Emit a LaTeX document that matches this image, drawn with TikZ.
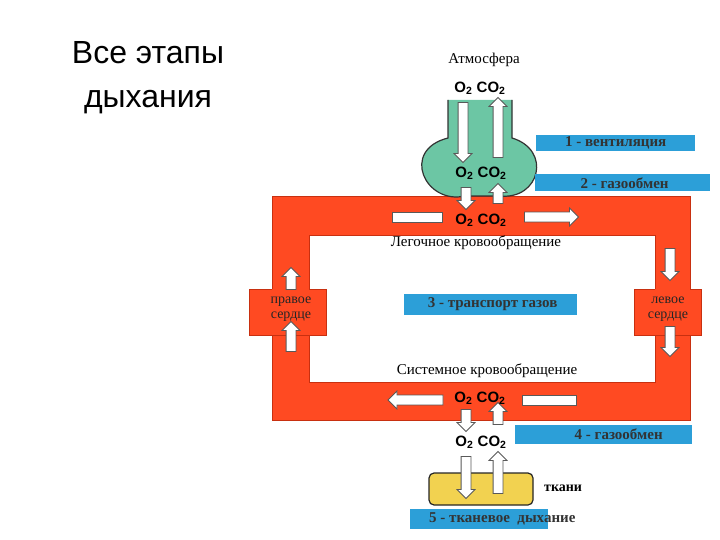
\documentclass[tikz,border=0pt]{standalone}
\usepackage{fontspec}
\setmainfont{Liberation Serif}
\newfontfamily\sansf{Liberation Sans}
\usetikzlibrary{shapes.arrows}
\definecolor{redf}{HTML}{FF4A22}
\definecolor{redd}{HTML}{C83010}
\definecolor{bluef}{HTML}{2C9FD8}
\definecolor{greenf}{HTML}{6CC6A4}
\definecolor{yellf}{HTML}{F2D250}
\newcommand\gasoc{O\textsubscript{2} CO\textsubscript{2}}
\begin{document}
\begin{tikzpicture}[x=1pt,y=-1pt,
  arr/.style={single arrow, draw=gray!70!black, fill=white, line width=0.8pt, inner sep=4.5pt,
     minimum width=17pt, single arrow head extend=4pt, single arrow head indent=0pt, anchor=center},
  bar/.style={draw=gray!70!black, fill=white, line width=0.8pt},
  gas/.style={font=\sansf\bfseries\fontsize{15}{15}\selectfont, inner sep=1pt},
  lbl/.style={fill=bluef, font=\bfseries\fontsize{15}{15}\selectfont, inner sep=2pt, anchor=west, text=black!80},
  txt/.style={font=\fontsize{15}{15}\selectfont, inner sep=1pt}]
\useasboundingbox (0,0) rectangle (720,540);
\node[font=\sansf\fontsize{32}{44}\selectfont, align=center] (title) at (148,78) {Все этапы\\дыхания};
% red circuit
\path[fill=redf, draw=redd, line width=1pt, even odd rule]
  (272,197) rectangle (690,420) (309,235) rectangle (655,382);
\fill[redf] (249,289) rectangle (326,335);
\draw[redd] (249,289) rectangle (326,335);
\fill[redf] (634,289) rectangle (701,335);
\draw[redd] (634,289) rectangle (701,335);
\fill[redf] (272,289) rectangle (309,335);
\fill[redf] (655,289) rectangle (690,335);
\node[arr, rotate=90, minimum height=22pt] (la1) at (291,281) {};
\node[arr, rotate=90, minimum height=30pt] (la2) at (291,339) {};
\node[arr, rotate=-90, minimum height=32pt] (ra1) at (670,262) {};
\node[arr, rotate=-90, minimum height=30pt] (ra2) at (670,339) {};
\node[txt, align=center, text=black!85, font=\fontsize{14}{15}\selectfont] (rh) at (291,309) {правое\\сердце};
\node[txt, align=center, text=black!85, font=\fontsize{14}{15}\selectfont] (lh) at (668,309) {левое\\сердце};
% lung
\path[fill=greenf, draw=black!80, line width=1.2pt]
  (448,100) -- (448,138) .. controls (400,150) and (425,205) .. (465,196)
  -- (500,196) .. controls (540,200) and (552,150) .. (512,138) -- (512,100);
\node[txt] (atm) at (484,60) {Атмосфера};
\node[gas] (g1) at (480,88) {\gasoc};
\node[arr, rotate=-90, minimum height=60pt] (a1) at (463,130) {};
\node[arr, rotate=90, minimum height=60pt] (a2) at (498,130) {};
\node[arr, rotate=-90, minimum height=22pt] (a3) at (466,196) {};
\node[arr, rotate=90, minimum height=20pt] (a4) at (498,196) {};
\node[gas] (g2) at (481,173) {\gasoc};
\node[gas] (g3) at (481,220) {\gasoc};
\node[bar, minimum width=50pt, minimum height=10pt, inner sep=0pt] (b1) at (417,217) {};
\node[arr, minimum height=54pt, minimum width=18pt] (a5) at (549,217) {};
\node[txt] (lk) at (476,243) {Легочное кровообращение};
\node[txt] (sk) at (487,371) {Системное кровообращение};
% bottom bar
\node[arr, rotate=180, minimum height=55pt, minimum width=18pt] (a6) at (418,400) {};
\node[bar, minimum width=54pt, minimum height=10pt, inner sep=0pt] (b2) at (549,400) {};
\node[arr, rotate=-90, minimum height=22pt] (a7) at (466,418) {};
\node[arr, rotate=90, minimum height=22pt] (a8) at (498,416) {};
\node[gas] (g4) at (480,398) {\gasoc};
\node[gas] (g5) at (481,442) {\gasoc};
% tissue
\node[draw=black!85, fill=yellf, line width=1.2pt, rounded corners=5pt, minimum width=104pt, minimum height=32pt] (tk) at (481,489) {};
\node[arr, rotate=-90, minimum height=42pt] (a9) at (466,475) {};
\node[arr, rotate=90, minimum height=42pt] (a10) at (498,475) {};
\node[txt, font=\bfseries\fontsize{14}{15}\selectfont, anchor=west] (tt) at (543,488) {ткани};
% labels
\node[lbl, minimum width=159pt, minimum height=16pt] (l1) at (536,143) {1 - вентиляция};
\node[lbl, minimum width=175pt, minimum height=17pt] (l2) at (535,183) {\ 2 - газообмен};
\node[lbl, minimum width=173pt, minimum height=21pt] (l3) at (404,304) {\ 3 - транспорт газов};
\node[lbl, minimum width=177pt, minimum height=19pt] (l4) at (515,434) {\qquad 4 - газообмен};
\fill[bluef] (410,509) rectangle (548,529);
\node[txt, font=\bfseries\fontsize{15}{15}\selectfont, anchor=west, text=black!80] (l5) at (428,519) {5 - тканевое\ \ дыхание};
\end{tikzpicture}
\end{document}
